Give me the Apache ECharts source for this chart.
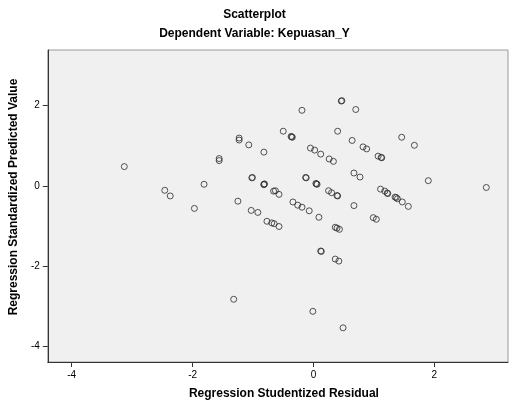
<!DOCTYPE html>
<html>
<head>
<meta charset="utf-8">
<script src="https://cdn.jsdelivr.net/npm/echarts@6/dist/echarts.min.js"></script>
<style>
html,body{margin:0;padding:0;background:#fff;}
#chart{width:509px;height:405px;}
</style>
</head>
<body>
<div id="chart"></div>
<script>
// Regression Studentized Residual (x)
var residual = [-3.13,-2.46,-2.37,-1.97,-1.81,-1.56,-1.56,-1.32,-1.25,-1.23,-1.23,-1.07,-1.02,-1.01,-1.03,-0.92,-0.82,-0.82,-0.82,-0.81,-0.66,-0.63,-0.57,-0.77,-0.69,-0.65,-0.57,-0.50,-0.37,-0.35,-0.36,-0.34,-0.26,-0.19,-0.07,-0.19,-0.13,-0.12,-0.05,0.02,0.12,0.05,0.06,0.04,0.09,0.12,0.13,-0.01,0.25,0.30,0.40,0.39,0.26,0.33,0.36,0.42,0.36,0.39,0.43,0.40,0.46,0.47,0.49,0.64,0.67,0.77,0.67,0.70,0.82,0.88,0.99,1.04,1.07,1.13,1.12,1.11,1.18,1.22,1.23,1.35,1.37,1.39,1.47,1.57,1.46,1.67,1.90,2.86];
// Regression Standardized Predicted Value (y)
var predicted = [0.48,-0.11,-0.25,-0.56,0.04,0.68,0.63,-2.82,-0.38,1.19,1.14,1.02,0.20,0.21,-0.61,-0.66,0.84,0.04,0.03,0.05,-0.13,-0.12,-0.21,-0.88,-0.92,-0.94,-1.01,1.36,1.23,1.21,1.22,-0.40,-0.48,-0.53,-0.62,1.88,0.21,0.20,0.94,0.89,0.79,0.05,0.04,0.06,-0.78,-1.62,-1.63,-3.12,-0.12,-0.17,-0.25,-0.24,0.67,0.61,-1.82,-1.87,-1.03,-1.05,-1.08,1.36,2.11,2.12,-3.53,1.13,0.32,0.22,-0.49,1.90,0.97,0.92,-0.79,-0.83,0.74,0.70,0.71,-0.08,-0.13,-0.18,-0.19,-0.28,-0.29,-0.32,-0.40,-0.51,1.21,1.01,0.13,-0.04];
var tickValues = [-4, -2, 0, 2];

var points = residual.map(function (x, i) { return [x, predicted[i]]; });

var chart = echarts.init(document.getElementById('chart'), null, {renderer: 'canvas'});
var font = 'Arial, "Liberation Sans", sans-serif';
chart.setOption({
  animation: false,
  backgroundColor: '#ffffff',
  title: [
    {text: 'Scatterplot', left: 'center', top: 4,
     textStyle: {fontFamily: font, fontSize: 12, fontWeight: 'bold', color: '#000'}},
    {text: 'Dependent Variable: Kepuasan_Y', left: 'center', top: 23,
     textStyle: {fontFamily: font, fontSize: 12, fontWeight: 'bold', color: '#000'}}
  ],
  grid: {left: 47, top: 50, right: 1, bottom: 39, show: true,
         backgroundColor: '#f0f0f0', borderColor: '#9a9a9a', borderWidth: 1},
  xAxis: {
    type: 'value', min: -4.396, max: 3.219,
    name: 'Regression Studentized Residual', nameLocation: 'middle', nameGap: 26,
    nameTextStyle: {fontFamily: font, fontSize: 12, fontWeight: 'bold', color: '#000', padding: [0, 0, 0, 12]},
    splitLine: {show: false},
    axisLine: {show: true, onZero: false, lineStyle: {color: '#333', width: 1}},
    axisTick: {show: true, length: 5, customValues: tickValues, lineStyle: {color: '#333'}},
    axisLabel: {customValues: tickValues, margin: 8, fontFamily: font, fontSize: 10, color: '#000'}
  },
  yAxis: {
    type: 'value', min: -4.38, max: 3.38,
    name: 'Regression Standardized Predicted Value', nameLocation: 'middle', nameGap: 20,
    nameTextStyle: {fontFamily: font, fontSize: 12, fontWeight: 'bold', color: '#000', padding: [0, 0, 0, 18]},
    splitLine: {show: false},
    axisLine: {show: true, onZero: false, lineStyle: {color: '#333', width: 1}},
    axisTick: {show: true, length: 5, customValues: tickValues, lineStyle: {color: '#333'}},
    axisLabel: {customValues: tickValues, margin: 8, fontFamily: font, fontSize: 10, color: '#000'}
  },
  series: [{
    type: 'scatter',
    data: points,
    symbol: 'circle',
    symbolSize: 6,
    itemStyle: {color: 'rgba(0,0,0,0)', borderColor: '#2a2a2a', borderWidth: 1, opacity: 0.8}
  }]
});
</script>
</body>
</html>
